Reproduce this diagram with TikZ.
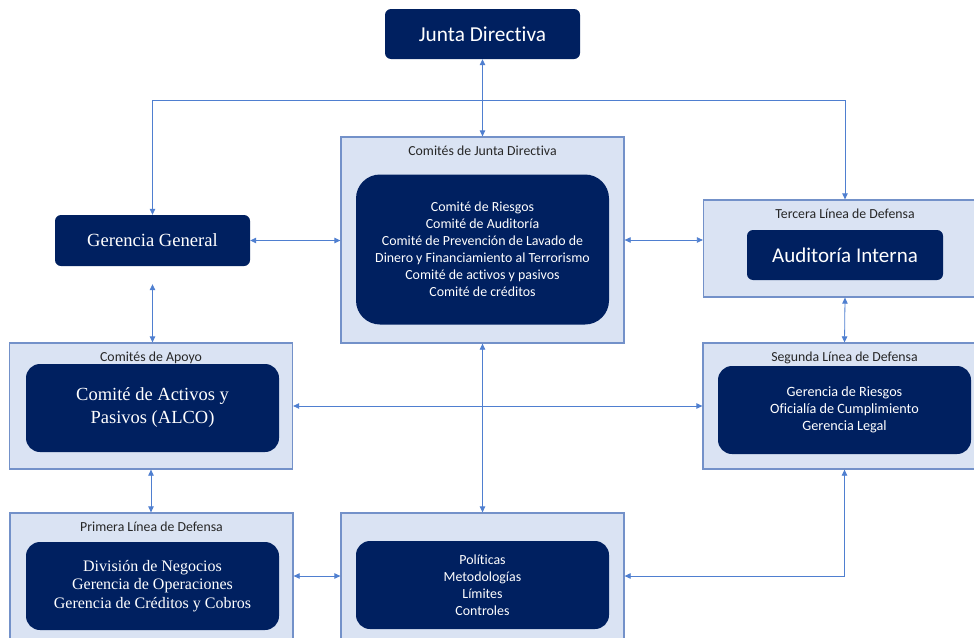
\documentclass[tikz,border=0pt]{standalone}
\usepackage{fontspec}
\setmainfont{Liberation Serif}
\newfontfamily\calib[Ligatures=NoCommon]{Carlito}
\usetikzlibrary{arrows.meta}
\definecolor{navy}{HTML}{002060}
\definecolor{paleblue}{HTML}{DAE3F3}
\definecolor{edgeblue}{HTML}{7391C9}
\definecolor{linkblue}{HTML}{4F7FD0}
\tikzset{
  outerbox/.style={draw=edgeblue,line width=1.3pt,fill=paleblue,minimum width=283pt,minimum height=126pt,inner sep=0pt},
  darkbox/.style={fill=navy,text=white,rounded corners=6pt,align=center,inner sep=0pt,minimum width=253pt,minimum height=88pt},
  boxtitle/.style={anchor=north,inner sep=0pt,yshift=-9pt,font=\calib\fontsize{13.8}{16}\selectfont,text=black!85},
  link/.style={draw=linkblue,line width=0.8pt,{Triangle[length=6pt,width=5.5pt]}-{Triangle[length=6pt,width=5.5pt]}},
}
\begin{document}
\begin{tikzpicture}[x=1pt,y=-1pt]
		\clip (0,0) rectangle (974,637);
		\fill[white] (0,0) rectangle (974,637);
		
		% boxes
		\node[darkbox,minimum width=195pt,minimum height=50pt,font=\calib\fontsize{21.3}{24}\selectfont] (jd) at (482.5,34) {Junta Directiva};
		\node[darkbox,minimum width=195pt,minimum height=51pt,font=\fontsize{18.6}{21}\selectfont] (gg) at (152.5,240.5) {Gerencia General};
		
		\node[outerbox,minimum height=206pt] (cjd) at (482.5,240) {};
		\node[boxtitle] at (cjd.north) {Comités de Junta Directiva};
		\node[darkbox,minimum height=150pt,rounded corners=24pt,font=\calib\fontsize{13.9}{17}\selectfont] (cjdi) at (482.5,249.5) {Comité de Riesgos\\Comité de Auditoría\\Comité de Prevención de Lavado de\\Dinero y Financiamiento al Terrorismo\\Comité de activos y pasivos\\Comité de créditos};
		
		\node[outerbox,minimum height=97pt] (tld) at (845,248.5) {};
		\node[boxtitle] at (tld.north) {Tercera Línea de Defensa};
		\node[darkbox,minimum width=196pt,minimum height=50pt,font=\calib\fontsize{21}{24}\selectfont] (ai) at (845,255) {Auditoría Interna};
		
		\node[outerbox] (ca) at (151,406) {};
		\node[boxtitle] at (ca.north) {Comités de Apoyo};
		\node[darkbox,rounded corners=14pt,font=\fontsize{18.5}{23}\selectfont] (cai) at (152.5,408) {Comité de Activos y\\Pasivos (ALCO)};
		
		\node[outerbox] (sld) at (844.5,406) {};
		\node[boxtitle] at (sld.north) {Segunda Línea de Defensa};
		\node[darkbox,rounded corners=14pt,font=\calib\fontsize{14.2}{17}\selectfont] (sldi) at (844.5,410) {Gerencia de Riesgos\\Oficialía de Cumplimiento\\Gerencia Legal};
		
		\node[outerbox] (pld) at (151.5,576) {};
		\node[boxtitle] at (pld.north) {Primera Línea de Defensa};
		\node[darkbox,rounded corners=14pt,font=\fontsize{16}{18.5}\selectfont] (pldi) at (152.5,586) {División de Negocios\\Gerencia de Operaciones\\Gerencia de Créditos y Cobros};
		
		\node[outerbox] (bm) at (482.5,576) {};
		\node[darkbox,rounded corners=14pt,font=\calib\fontsize{13.9}{17}\selectfont] (bmi) at (482.5,585) {Políticas\\Metodologías\\Límites\\Controles};
		
		% connectors
		\coordinate (top) at (845,100);
		\draw[link] (jd.south) -- (cjd.north);
		\draw[link] (gg.north) |- (top) -- (tld.north);
		\draw[link] (gg.east) -- (gg.east -| cjd.west);
		\draw[link] (cjd.east) -- (cjd.east -| tld.west);
		\draw[link,shorten <=18pt] (gg.south) -- (gg.south |- ca.north);
		\draw[link] (tld.south) -- (sld.north);
		\draw[link] (ca.east) -- (sld.west);
		\draw[link] (cjd.south) -- (bm.north);
		\draw[link] (ca.south) -- (ca.south |- pld.north);
		\draw[link] (pld.east) -- (bm.west);
		\draw[link] (sld.south) |- (bm.east);
		\end{tikzpicture}
\end{document}
